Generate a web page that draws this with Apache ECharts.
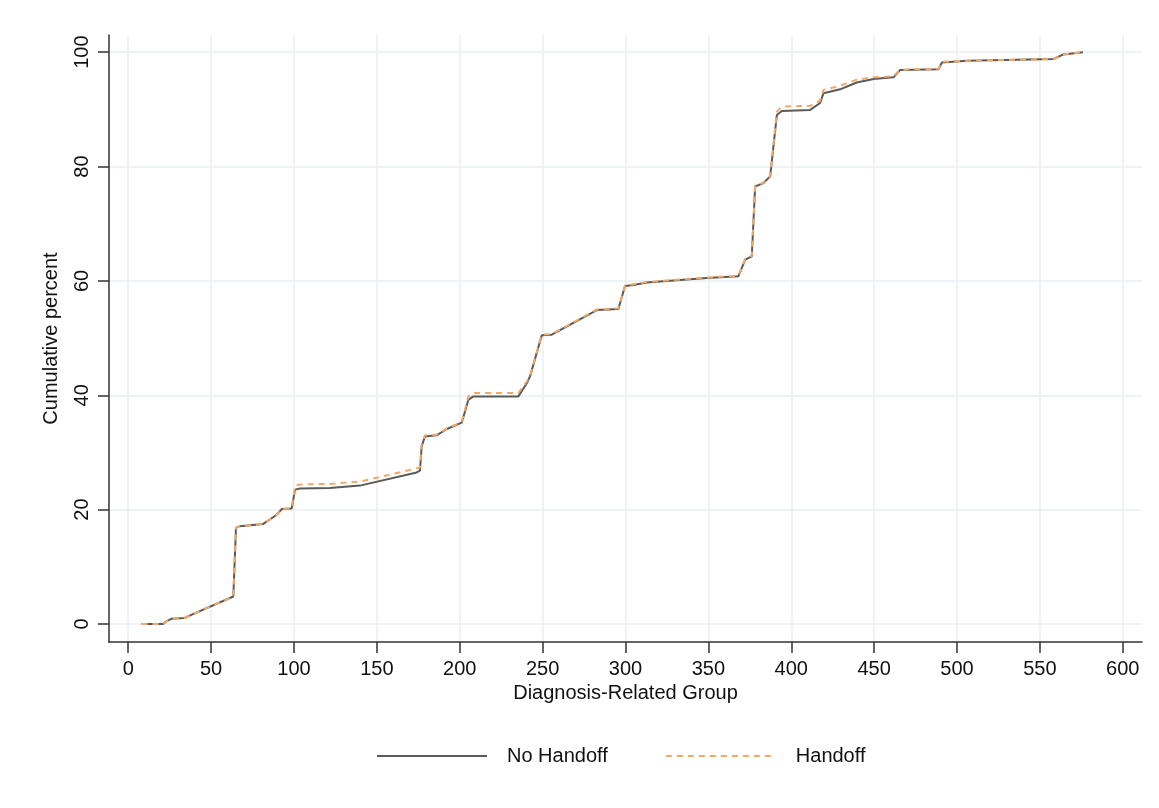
<!DOCTYPE html>
<html>
<head>
<meta charset="utf-8">
<script src="https://cdn.jsdelivr.net/npm/echarts@6/dist/echarts.min.js"></script>
<style>
  html, body { margin: 0; padding: 0; background: #ffffff; }
  #chart { width: 1159px; height: 808px; }
</style>
</head>
<body>
<div id="chart"></div>
<script>
// Cumulative percent of admissions by Diagnosis-Related Group
const drgNoHandoff = [8, 21, 23, 26, 34, 37, 63.4, 65, 67.4, 81.5, 89.6, 92.6, 98.6, 100.6, 103.6, 121.7, 139.8, 174, 176, 177, 179, 186, 192.2, 201.2, 205.2, 208.2, 235.4, 240.4, 242.4, 249.5, 255.5, 282.7, 295.7, 299.7, 304.8, 312.8, 331, 349.1, 368.1, 372.2, 376.2, 378.2, 383.2, 387.3, 391.3, 394.3, 411.4, 417.4, 419.4, 429.5, 439.5, 449.6, 461.7, 465.7, 488.8, 490.9, 506, 558.2, 564.2, 576];
const pctNoHandoff = [0, 0, 0.45, 0.9, 1.05, 1.45, 4.8, 16.8, 17.1, 17.5, 19.1, 20.1, 20.2, 23.5, 23.7, 23.8, 24.2, 26.5, 26.8, 31, 32.8, 33.0, 34.1, 35.2, 39.2, 39.8, 39.8, 42.1, 43.3, 50.5, 50.6, 54.9, 55.1, 59.1, 59.3, 59.7, 60.1, 60.5, 60.8, 63.7, 64.3, 76.5, 77.1, 78.3, 89.0, 89.7, 89.9, 91.1, 92.8, 93.5, 94.7, 95.3, 95.6, 96.9, 97.0, 98.2, 98.5, 98.8, 99.6, 100];

const drgHandoff = [8, 21, 23, 26, 34, 37, 63.4, 65, 67.4, 81.5, 89.6, 92.6, 98.6, 100.6, 103.6, 121.7, 139.8, 174, 176, 177, 179, 186, 192.2, 201.2, 205.2, 208.2, 235.4, 240.4, 242.4, 249.5, 255.5, 282.7, 295.7, 299.7, 304.8, 312.8, 331, 349.1, 368.1, 372.2, 376.2, 378.2, 383.2, 387.3, 391.3, 394.3, 411.4, 417.4, 419.4, 429.5, 439.5, 449.6, 461.7, 465.7, 488.8, 490.9, 506, 558.2, 564.2, 576];
const pctHandoff = [0, 0, 0.45, 0.9, 1.05, 1.45, 4.8, 16.8, 17.1, 17.5, 19.1, 20.1, 20.2, 24.2, 24.4, 24.5, 24.9, 27.2, 27.4, 31.3, 33.0, 33.1, 34.2, 35.3, 39.8, 40.4, 40.4, 42.4, 43.4, 50.6, 50.7, 55.0, 55.2, 59.2, 59.4, 59.8, 60.2, 60.6, 60.9, 63.8, 64.4, 76.6, 77.2, 78.4, 89.6, 90.5, 90.6, 91.5, 93.4, 94.1, 95.2, 95.6, 95.8, 96.9, 97.1, 98.3, 98.5, 98.8, 99.6, 100];

const xTicks = [0, 50, 100, 150, 200, 250, 300, 350, 400, 450, 500, 550, 600];
const yTicks = [0, 20, 40, 60, 80, 100];

const seriesNames = ['No Handoff', 'Handoff'];

const zip = (xs, ys) => xs.map((x, i) => [x, ys[i]]);

const FONT = '"Liberation Sans", Arial, Helvetica, sans-serif';
const axisInk = '#333333';
const gridInk = '#eaeff2';

const chart = echarts.init(document.getElementById('chart'), null, { renderer: 'canvas' });

chart.setOption({
  backgroundColor: '#ffffff',
  animation: false,
  grid: { left: 109, right: 17, top: 35, bottom: 166, containLabel: false },
  legend: {
    left: 371,
    top: 741,
    itemWidth: 110,
    itemHeight: 16,
    itemGap: 57,
    data: seriesNames,
    // legend keys show only the line sample, no marker
    itemStyle: { opacity: 0 },
    textStyle: { fontFamily: FONT, fontSize: 20, color: '#111', padding: [0, 0, 0, 15] }
  },
  xAxis: {
    type: 'value',
    min: -11.6,
    max: 611.6,
    name: 'Diagnosis-Related Group',
    nameLocation: 'middle',
    nameGap: 36,
    nameTextStyle: { fontFamily: FONT, fontSize: 20, color: '#111' },
    axisLine: { show: true, onZero: false, lineStyle: { color: axisInk, width: 1.5 } },
    axisTick: { show: true, length: 11, customValues: xTicks, lineStyle: { color: axisInk, width: 1.5 } },
    axisLabel: { customValues: xTicks, margin: 17, fontFamily: FONT, fontSize: 20, color: '#111' },
    splitLine: { show: true, lineStyle: { color: gridInk, width: 1.5 } }
  },
  yAxis: {
    type: 'value',
    min: -3.15,
    max: 103,
    name: 'Cumulative percent',
    nameLocation: 'middle',
    nameGap: 48,
    nameTextStyle: { fontFamily: FONT, fontSize: 20, color: '#111' },
    axisLine: { show: true, onZero: false, lineStyle: { color: axisInk, width: 1.5 } },
    axisTick: { show: true, length: 11, customValues: yTicks, lineStyle: { color: axisInk, width: 1.5 } },
    axisLabel: { customValues: yTicks, rotate: 90, margin: 17, fontFamily: FONT, fontSize: 20, color: '#111' },
    splitLine: { show: true, lineStyle: { color: gridInk, width: 1.5 } }
  },
  series: [
    {
      name: seriesNames[0],
      type: 'line',
      data: zip(drgNoHandoff, pctNoHandoff),
      symbol: 'none',
      color: '#5a5a5a',
      lineStyle: { color: '#5a5a5a', width: 2 }
    },
    {
      name: seriesNames[1],
      type: 'line',
      data: zip(drgHandoff, pctHandoff),
      symbol: 'none',
      color: '#f2a866',
      lineStyle: { color: '#f2a866', width: 2, type: [6, 5] }
    }
  ]
});
</script>
</body>
</html>
